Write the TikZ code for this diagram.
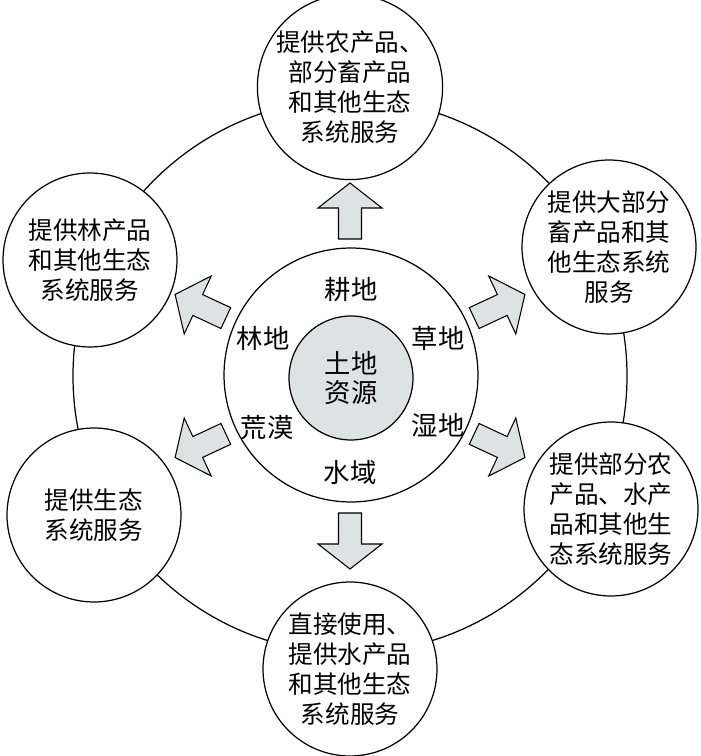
\documentclass[tikz,border=0pt]{standalone}
\usepackage{fontspec}
\setmainfont{Noto Sans CJK SC}
\usepackage{tikz}
\usetikzlibrary{positioning}
\definecolor{grisazul}{RGB}{221,227,227}
\tikzset{
  servicio/.style={
    circle,
    draw=black,
    fill=white,
    line width=.7pt,
    align=center,
    inner sep=0pt,
    minimum size=3.48cm,
    font=\fontsize{14}{17}\selectfont
  },
  anillo/.style={
    circle,
    draw=black,
    fill=white,
    line width=.7pt,
    minimum size=5.08cm
  },
  nucleo/.style={
    circle,
    draw=black,
    fill=grisazul,
    line width=.7pt,
    align=center,
    minimum size=2.48cm,
    font=\fontsize{15}{16.5}\selectfont
  },
  tipo/.style={
    font=\fontsize{15}{17}\selectfont
  },
  flecha/.style={
    draw=black,
    fill=grisazul,
    line width=.6pt,
    line join=miter
  },
  salida/.pic={
    \path[flecha] (0,-11.5) -- (31,-11.5) -- (31,-32) -- (56,0) -- (31,32) -- (31,11.5) -- (0,11.5) -- cycle;
  }
}
\begin{document}
\begin{tikzpicture}[x=0.02cm,y=0.02cm]
\useasboundingbox (-350,-380) rectangle (350,376);
\draw[line width=.7pt] (0,0) circle[radius=277];
% anillo central
\node[anillo] (anillo) at (1,1) {};
\node[nucleo] (centro) at (1,-2) {土地\\资源};
\node[tipo] (geng) at (1,86) {耕地};
\node[tipo] (cao) at (88,38) {草地};
\node[tipo] (shi) at (88,-49) {湿地};
\node[tipo] (shui) at (0,-97) {水域};
\node[tipo] (huang) at (-83,-52) {荒漠};
\node[tipo] (lin) at (-87,38) {林地};
% flechas
\foreach \ang in {90,25,-25,-90,205,155}
  \pic[rotate=\ang] at (\ang:137) {salida};
% servicios
\node[servicio] (a) at (0,289) {提供农产品、\\部分畜产品\\和其他生态\\系统服务};
\node[servicio] (b) at (259,129) {提供大部分\\畜产品和其\\他生态系统\\服务};
\node[servicio] (c) at (261,-133) {提供部分农\\产品、水产\\品和其他生\\态系统服务};
\node[servicio] (d) at (0,-293) {直接使用、\\提供水产品\\和其他生态\\系统服务};
\node[servicio] (e) at (-256,-139) {提供生态\\系统服务};
\node[servicio] (f) at (-260,116) {提供林产品\\和其他生态\\系统服务};
\end{tikzpicture}
\end{document}
